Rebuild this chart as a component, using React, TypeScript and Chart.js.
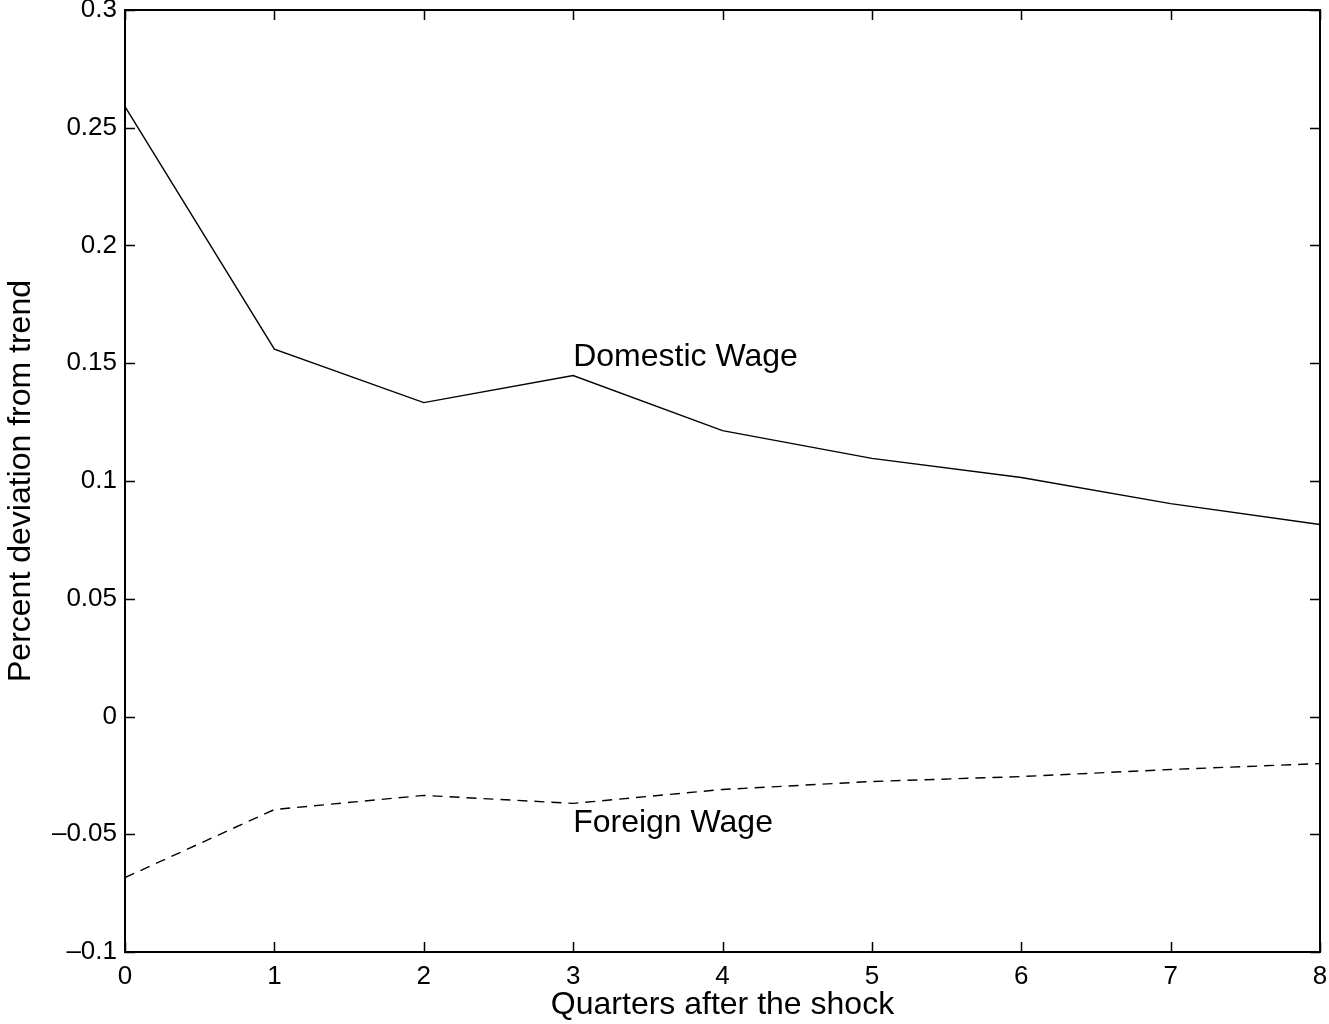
import React, { useEffect, useRef } from "react";
import { Chart, registerables } from "chart.js";

Chart.register(...registerables);

const quarters = [0, 1, 2, 3, 4, 5, 6, 7, 8];
const domesticWage = [0.259, 0.156, 0.1333, 0.1448, 0.1214, 0.1096, 0.1015, 0.0904, 0.0815];
const foreignWage = [-0.0684, -0.0395, -0.0335, -0.0369, -0.031, -0.0276, -0.0255, -0.0225, -0.02];
const yTicks = [-0.1, -0.05, 0, 0.05, 0.1, 0.15, 0.2, 0.25, 0.3];
const seriesLabels = ["Domestic Wage", "Foreign Wage"];
const labelPositions = [
  { x: 3, y: 0.1524 },
  { x: 3, y: -0.0454 },
];

const FONT = "'Liberation Sans', Arial, Helvetica, sans-serif";

const fmt = (v: number) => {
  const r = Math.round(v * 1000) / 1000;
  const s = String(Math.abs(r));
  return r < 0 ? "\u2013" + s : s;
};

const framePlugin = {
  id: "frame",
  afterDatasetsDraw(chart: any) {
    const { ctx, chartArea } = chart;
    const xs = chart.scales.x;
    const ys = chart.scales.y;
    const { left, right, top, bottom } = chartArea;
    ctx.save();
    ctx.strokeStyle = "#000";
    ctx.lineWidth = 1.5;
    ctx.beginPath();
    const tl = 10;
    quarters.forEach((q) => {
      const px = Math.round(xs.getPixelForValue(q)) + 0.5;
      ctx.moveTo(px, bottom);
      ctx.lineTo(px, bottom - tl);
      ctx.moveTo(px, top);
      ctx.lineTo(px, top + tl);
    });
    yTicks.forEach((t) => {
      const py = Math.round(ys.getPixelForValue(t)) + 0.5;
      ctx.moveTo(left, py);
      ctx.lineTo(left + tl, py);
      ctx.moveTo(right, py);
      ctx.lineTo(right - tl, py);
    });
    ctx.stroke();
    ctx.lineWidth = 2;
    ctx.strokeRect(left, top, right - left, bottom - top);
    ctx.fillStyle = "#000";
    ctx.font = `32px ${FONT}`;
    ctx.textAlign = "left";
    ctx.textBaseline = "middle";
    seriesLabels.forEach((s, i) => {
      const p = labelPositions[i];
      ctx.fillText(s, xs.getPixelForValue(p.x), ys.getPixelForValue(p.y));
    });
    ctx.restore();
  },
};

export default function App() {
  const ref = useRef<HTMLCanvasElement | null>(null);
  useEffect(() => {
    document.body.style.margin = "0";
    const chart = new Chart(ref.current as HTMLCanvasElement, {
      type: "line",
      data: {
        datasets: [
          {
            label: seriesLabels[0],
            data: quarters.map((q, i) => ({ x: q, y: domesticWage[i] })),
            borderColor: "#000",
            borderWidth: 1.4,
            pointRadius: 0,
            tension: 0,
          },
          {
            label: seriesLabels[1],
            data: quarters.map((q, i) => ({ x: q, y: foreignWage[i] })),
            borderColor: "#000",
            borderWidth: 1.4,
            borderDash: [10, 7],
            pointRadius: 0,
            tension: 0,
          },
        ],
      },
      plugins: [framePlugin],
      options: {
        animation: false,
        responsive: false,
        layout: { padding: { left: 0, right: 9, top: 10, bottom: 0 } },
        plugins: { legend: { display: false }, tooltip: { enabled: false } },
        scales: {
          x: {
            type: "linear",
            min: 0,
            max: 8,
            afterBuildTicks: (s: any) => {
              s.ticks = quarters.map((v) => ({ value: v }));
            },
            afterFit: (s: any) => {
              s.height = 72;
              s.paddingLeft = 0;
              s.paddingRight = 0;
            },
            grid: { display: false, drawTicks: false },
            border: { display: false },
            ticks: {
              color: "#000",
              font: { family: FONT, size: 26 },
              padding: 9,
              maxRotation: 0,
              autoSkip: false,
              callback: (v: any) => fmt(Number(v)),
            },
            title: {
              display: true,
              text: "Quarters after the shock",
              color: "#000",
              font: { family: FONT, size: 32 },
              padding: { top: 0, bottom: 0 },
            },
          },
          y: {
            type: "linear",
            min: -0.1,
            max: 0.3,
            afterBuildTicks: (s: any) => {
              s.ticks = yTicks.map((v) => ({ value: v }));
            },
            afterFit: (s: any) => {
              s.width = 125;
              s.paddingTop = 0;
              s.paddingBottom = 0;
            },
            grid: { display: false, drawTicks: false },
            border: { display: false },
            ticks: {
              color: "#000",
              font: { family: FONT, size: 26 },
              padding: 8,
              autoSkip: false,
              callback: (v: any) => fmt(Number(v)),
            },
            title: {
              display: true,
              text: "Percent deviation from trend",
              color: "#000",
              font: { family: FONT, size: 32 },
              padding: { top: 2, bottom: 0 },
            },
          },
        },
      },
    });
    return () => chart.destroy();
  }, []);
  return (
    <div style={{ position: "absolute", left: 0, top: 0, width: 1329, height: 1024, background: "#fff" }}>
      <canvas ref={ref} width={1329} height={1024} style={{ display: "block", width: 1329, height: 1024 }} />
    </div>
  );
}
